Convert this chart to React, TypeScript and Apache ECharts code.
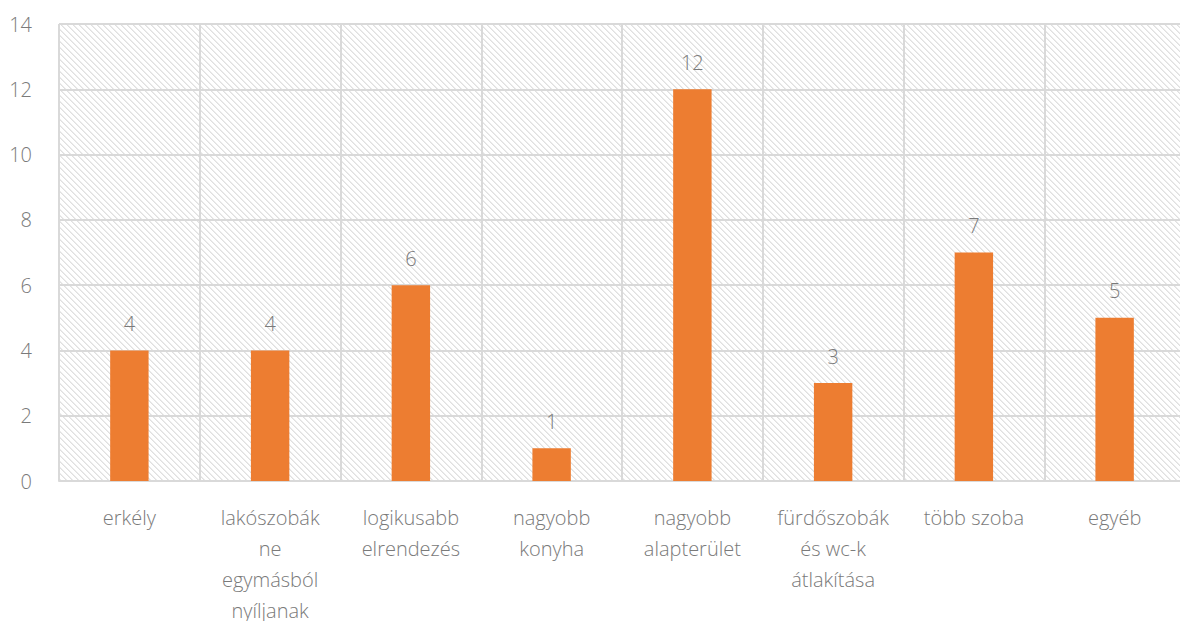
import React, { useEffect, useRef } from "react";
import * as echarts from "echarts";

const categories = [
  "erkély",
  "lakószobák\nne\negymásból\nnyíljanak",
  "logikusabb\nelrendezés",
  "nagyobb\nkonyha",
  "nagyobb\nalapterület",
  "fürdőszobák\nés wc-k\nátlakítása",
  "több szoba",
  "egyéb",
];
const values = [4, 4, 6, 1, 12, 3, 7, 5];

function makePattern(): HTMLCanvasElement {
  const c = document.createElement("canvas");
  c.width = 6;
  c.height = 6;
  const ctx = c.getContext("2d")!;
  ctx.fillStyle = "#ffffff";
  ctx.fillRect(0, 0, 6, 6);
  for (let i = 0; i < 6; i++) {
    ctx.fillStyle = "#e0e0e0";
    ctx.fillRect(i, i, 1, 1);
    ctx.fillStyle = "#ececec";
    ctx.fillRect((i + 1) % 6, i, 1, 1);
  }
  return c;
}

export default function App() {
  const ref = useRef<HTMLDivElement>(null);
  useEffect(() => {
    if (!ref.current) return;
    const chart = echarts.init(ref.current, undefined, { renderer: "svg" });
    const font = "'Open Sans', sans-serif";
    const txt = "#7a7a7a";
    chart.setOption({
      animation: false,
      grid: {
        left: 59,
        right: -5,
        top: 24,
        bottom: 140,
        show: true,
        borderWidth: 0,
        containLabel: false,
        outerBoundsMode: "none",
        backgroundColor: { image: makePattern(), repeat: "repeat" } as any,
      } as any,
      xAxis: {
        type: "category",
        data: categories,
        axisLine: { show: true, lineStyle: { color: "#d9d9d9", width: 2 } },
        axisTick: { show: false },
        splitLine: { show: true, lineStyle: { color: "#d9d9d9", width: 2 } },
        axisLabel: {
          interval: 0,
          color: txt,
          fontFamily: font,
          fontWeight: 300,
          fontSize: 20,
          lineHeight: 31,
          margin: 21,
          verticalAlign: "top",
        },
      },
      yAxis: {
        type: "value",
        min: 0,
        max: 14,
        interval: 2,
        axisLine: { show: false },
        axisTick: { show: false },
        splitLine: { show: true, lineStyle: { color: "#d9d9d9", width: 2 } },
        axisLabel: {
          color: txt,
          fontFamily: font,
          fontWeight: 300,
          fontSize: 20,
          margin: 27,
        },
      },
      series: [
        {
          type: "bar",
          data: values,
          barWidth: "27.3%",
          itemStyle: { color: "#ED7D31" },
          label: {
            show: true,
            position: "top",
            distance: 17,
            color: txt,
            fontFamily: font,
            fontWeight: 300,
            fontSize: 20,
          },
        },
      ],
    });
    return () => chart.dispose();
  }, []);
  return <div ref={ref} style={{ width: 1180, height: 621, position: "absolute", left: 0, top: 0 }} />;
}
